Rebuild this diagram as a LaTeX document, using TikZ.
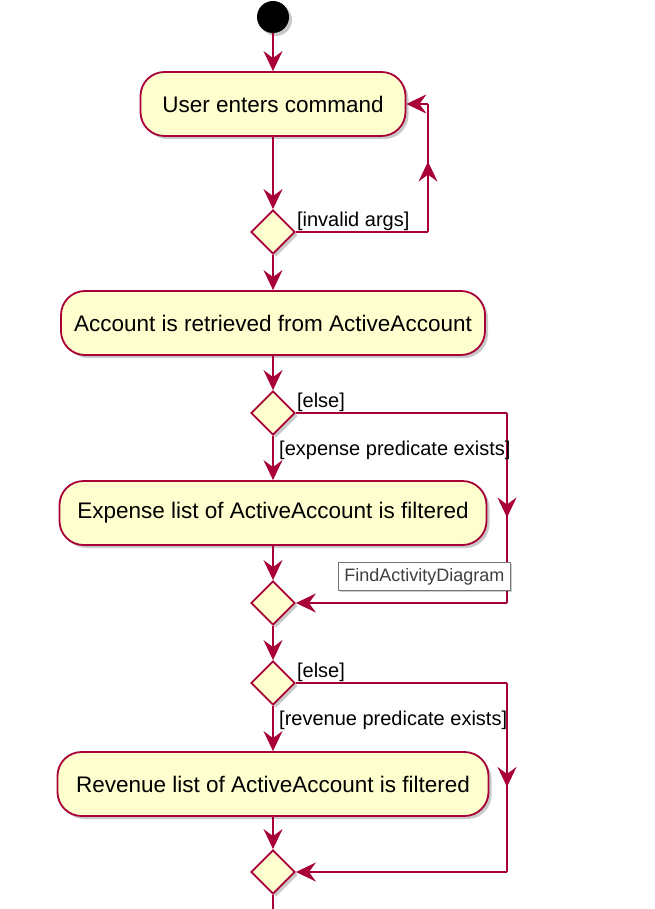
\documentclass[tikz,border=0pt]{standalone}
\usepackage{fontspec}
\setmainfont{Liberation Sans}
\usetikzlibrary{positioning, arrows.meta, shapes.geometric, shadows, decorations.markings}

\definecolor{umlred}{HTML}{A80036}
\definecolor{umlfill}{HTML}{FEFECE}
\definecolor{tipgrey}{HTML}{767676}

\begin{document}
\begin{tikzpicture}[x=1pt, y=-1pt,
  umlshadow/.style={drop shadow={shadow xshift=3pt, shadow yshift=-3pt, opacity=0.3, fill=black!70}},
  line/.style={draw=umlred, line width=1.8pt},
  flow/.style={line, -{Stealth[length=20pt, width=19pt, inset=7pt]}},
  midarrow/.style={postaction={decorate}, decoration={markings,
      mark=at position 0.55 with {\arrow[umlred, line width=1.8pt]{Stealth[length=20pt, width=19pt, inset=7pt]}}}},
  startdot/.style={circle, fill=black, minimum size=32pt, inner sep=0pt, umlshadow},
  activity/.style={rectangle, rounded corners=24pt, draw=umlred, line width=1.8pt,
      fill=umlfill, minimum height=64pt, font=\fontsize{22.5}{26}\selectfont, umlshadow},
  decision/.style={diamond, draw=umlred, line width=1.8pt, fill=umlfill,
      minimum width=44pt, minimum height=44pt, inner sep=0pt, umlshadow},
  guard/.style={inner sep=1pt, font=\fontsize{20}{24}\selectfont},
  tooltip/.style={draw=tipgrey, fill=white, line width=0.8pt, inner sep=4pt,
      minimum width=172pt, minimum height=28pt, text=black!75, font=\fontsize{18}{21}\selectfont,
      drop shadow={shadow xshift=2pt, shadow yshift=-2pt, opacity=0.2, fill=black}}]
  \useasboundingbox (0,0) rectangle (655,909);

  % Activities and decisions
  \node[startdot] (start) at (273,17) {};
  \node[activity, minimum width=265pt] (cmd) at (273,104) {User enters command};
  \node[decision] (d1) at (273,232) {};
  \node[activity, minimum width=424pt] (acc) at (273,323) {Account is retrieved from ActiveAccount};
  \node[decision] (d2) at (273,413) {};
  \node[activity, minimum width=427pt] (exp) at (273,513) {Expense list of ActiveAccount is filtered};
  \node[decision] (d3) at (273,603) {};
  \node[decision] (d4) at (273,683) {};
  \node[activity, minimum width=431pt] (rev) at (273,784) {Revenue list of ActiveAccount is filtered};
  \node[decision] (d5) at (273,872) {};
  \coordinate (end) at (273,912);

  % Main flow
  \draw[flow] (start) -- (cmd);
  \draw[flow] (cmd) -- (d1);
  \draw[flow] (d1) -- (acc);
  \draw[flow] (acc) -- (d2);
  \draw[flow] (d2) -- (exp);
  \draw[flow] (exp) -- (d3);
  \draw[flow] (d3) -- (d4);
  \draw[flow] (d4) -- (rev);
  \draw[flow] (rev) -- (d5);
  \draw[line] (d5) -- (end);

  % Loop back on invalid args
  \coordinate (back1) at (428,232);
  \coordinate (back2) at (428,104);
  \draw[line] (d1.east) -- (back1);
  \draw[line, midarrow] (back1) -- (back2);
  \draw[flow] (back2) -- (cmd.east);
  \node[guard, anchor=south west] (linv) at (d1.east) {[invalid args]};

  % Else branches
  \coordinate (skip1) at (507,413);
  \coordinate (skip1b) at (507,603);
  \draw[line] (d2.east) -- (skip1);
  \draw[line, midarrow] (skip1) -- (skip1b);
  \draw[flow] (skip1b) -- (d3.east);
  \node[guard, anchor=south west] (lelse1) at (d2.east) {[else]};
  \node[guard, below right=4pt and 5pt of d2.south, anchor=north west] (lexp) {[expense predicate exists]};

  \coordinate (skip2) at (507,683);
  \coordinate (skip2b) at (507,872);
  \draw[line] (d4.east) -- (skip2);
  \draw[line, midarrow] (skip2) -- (skip2b);
  \draw[flow] (skip2b) -- (d5.east);
  \node[guard, anchor=south west] (lelse2) at (d4.east) {[else]};
  \node[guard, below right=4pt and 5pt of d4.south, anchor=north west] (lrev) {[revenue predicate exists]};

  % Tooltip
  \node[tooltip, anchor=north west] (note) at (338,562) {FindActivityDiagram};
\end{tikzpicture}
\end{document}
